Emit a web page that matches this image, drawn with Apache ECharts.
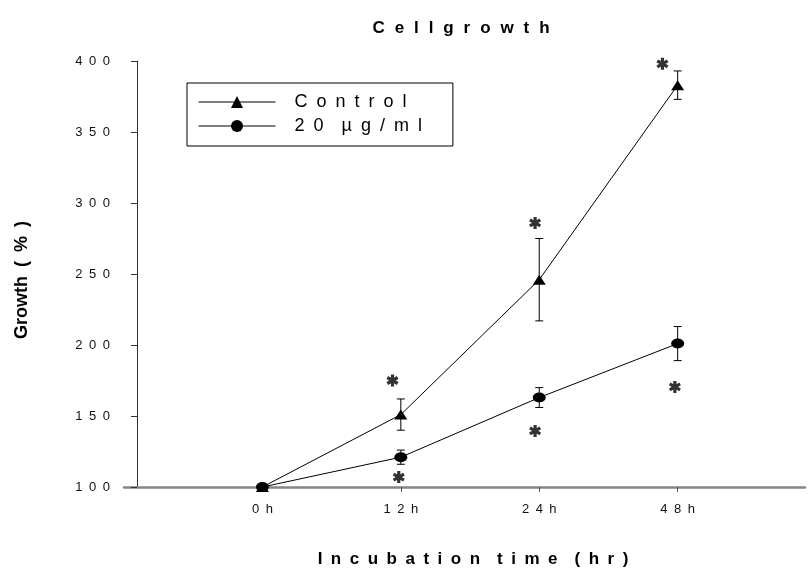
<!DOCTYPE html>
<html>
<head>
<meta charset="utf-8">
<script src="https://cdn.jsdelivr.net/npm/echarts@6/dist/echarts.min.js"></script>
<style>
  html, body { margin: 0; padding: 0; background: #fff; }
  #chart { width: 811px; height: 574px; }
</style>
</head>
<body>
<div id="chart"></div>
<script>
// Time points (category index 0..3 on the x scale)
const timeLabels = ['0h', '12h', '24h', '48h'];

// Growth (%) of the control group, with error bar half-widths
const controlMean = [100, 151, 246, 383];
const controlErr = [0, 11, 29, 10];

// Growth (%) of the 20 µg/ml group, with error bar half-widths
const treatedMean = [100, 121, 163, 201];
const treatedErr = [0, 5, 7, 12];

// Significance marks: [time position, growth level]
const controlStars = [[0.94, 175], [1.97, 286], [2.89, 398]];
const treatedStars = [[0.985, 107], [1.97, 139.5], [2.98, 170.5]];

const yTicks = [100, 150, 200, 250, 300, 350, 400];

const FONT = "'Liberation Sans', Arial, Helvetica, sans-serif";
const EN = '\u2002';
const HAIR = '\u200A';
const spaced = (s, gap) => Array.from(s).join(gap || EN);

const toPoints = (means) => means.map((m, i) => [i, m]);
const toBars = (means, errs) =>
  means.map((m, i) => [i, m - errs[i], m + errs[i]]).filter((d, i) => errs[i] > 0);

// six-spoke asterisk outline
const STAR_PATH = 'path://M-1.6,-6L1.6,-6L1.6,6L-1.6,6Z' +
  'M4.396,-4.386L5.996,-1.614L-4.396,4.386L-5.996,1.614Z' +
  'M5.996,1.614L4.396,4.386L-5.996,-1.614L-4.396,-4.386Z';

function errorBarRender(params, api) {
  const x = api.value(0);
  const lo = api.coord([x, api.value(1)]);
  const hi = api.coord([x, api.value(2)]);
  const cap = 4;
  const st = { stroke: '#000', lineWidth: 1 };
  return {
    type: 'group',
    children: [
      { type: 'line', shape: { x1: lo[0], y1: lo[1], x2: hi[0], y2: hi[1] }, style: st },
      { type: 'line', shape: { x1: lo[0] - cap, y1: lo[1], x2: lo[0] + cap, y2: lo[1] }, style: st },
      { type: 'line', shape: { x1: hi[0] - cap, y1: hi[1], x2: hi[0] + cap, y2: hi[1] }, style: st }
    ]
  };
}

const chart = echarts.init(document.getElementById('chart'), null, { renderer: 'canvas' });

chart.setOption({
  animation: false,
  backgroundColor: '#fff',
  textStyle: { fontFamily: FONT },
  title: {
    text: spaced('Cell', EN + HAIR) + EN + HAIR + spaced('growth', EN + HAIR),
    left: 456,
    top: 15,
    textAlign: 'center',
    textStyle: { fontFamily: FONT, fontSize: 17, fontWeight: 'bold', color: '#000' }
  },
  legend: {
    orient: 'vertical',
    left: 187,
    top: 83,
    padding: [10, 31, 11, 11],
    itemGap: 6,
    itemWidth: 77,
    itemHeight: 15,
    borderColor: '#000',
    borderWidth: 1,
    borderRadius: 0,
    data: ['Control', '20 µg/ml'],
    formatter: (name) => spaced(name.replace(' ', '')).replace('0' + EN + 'µ', '0' + EN + EN + 'µ'),
    lineStyle: { width: 1 },
    textStyle: { fontFamily: FONT, fontSize: 18, color: '#000', padding: [0, 0, 0, 14] }
  },
  grid: { left: 124, right: 6, top: 61, bottom: 87 },
  xAxis: {
    type: 'value',
    min: -1,
    max: 3.92,
    interval: 1,
    axisLine: { show: true, onZero: false, lineStyle: { color: '#858585', width: 2.5 } },
    axisTick: { show: true, length: 5, customValues: [0, 1, 2, 3], lineStyle: { color: '#555', width: 1 } },
    axisLabel: {
      customValues: [0, 1, 2, 3],
      margin: 16,
      fontFamily: FONT,
      fontSize: 13,
      color: '#111',
      formatter: (v) => {
        const t = timeLabels[Math.round(v)];
        return (t && Math.abs(v - Math.round(v)) < 1e-6) ? spaced(t) : '';
      }
    },
    splitLine: { show: false },
    name: spaced('Incubation') + EN + EN + spaced('time') + EN + EN + spaced('(hr)'),
    nameLocation: 'middle',
    nameGap: 64,
    nameTextStyle: { fontFamily: FONT, fontSize: 17, fontWeight: 'bold', color: '#000', padding: [0, 0, 0, 17] }
  },
  yAxis: {
    type: 'value',
    min: yTicks[0],
    max: yTicks[yTicks.length - 1],
    interval: 50,
    offset: -13,
    axisLine: { show: true, onZero: false, lineStyle: { color: '#333', width: 1 } },
    axisTick: { show: true, length: 6, lineStyle: { color: '#333', width: 1 } },
    axisLabel: {
      margin: 27,
      fontFamily: FONT,
      fontSize: 13,
      color: '#111',
      formatter: (v) => spaced(String(v))
    },
    splitLine: { show: false },
    name: 'Growth' + EN + '(' + EN + '%' + EN + ')',
    nameLocation: 'middle',
    nameGap: 106,
    nameTextStyle: { fontFamily: FONT, fontSize: 18, fontWeight: 'bold', color: '#000', padding: [0, 12, 0, 0] }
  },
  series: [
    {
      name: 'Control',
      type: 'line',
      data: toPoints(controlMean),
      symbol: 'triangle',
      symbolSize: [13, 10],
      color: '#000',
      itemStyle: { color: '#000' },
      lineStyle: { color: '#000', width: 1 },
      z: 3
    },
    {
      name: '20 µg/ml',
      type: 'line',
      data: toPoints(treatedMean),
      symbol: 'circle',
      symbolSize: [13, 10],
      color: '#000',
      itemStyle: { color: '#000' },
      lineStyle: { color: '#000', width: 1 },
      z: 3
    },
    {
      type: 'custom',
      renderItem: errorBarRender,
      data: toBars(controlMean, controlErr),
      encode: { x: 0, y: [1, 2] },
      z: 2
    },
    {
      type: 'custom',
      renderItem: errorBarRender,
      data: toBars(treatedMean, treatedErr),
      encode: { x: 0, y: [1, 2] },
      z: 2
    },
    {
      type: 'scatter',
      data: controlStars.concat(treatedStars),
      symbol: STAR_PATH,
      symbolSize: [12, 12],
      itemStyle: { color: '#000' },
      z: 4
    }
  ]
});
</script>
</body>
</html>
